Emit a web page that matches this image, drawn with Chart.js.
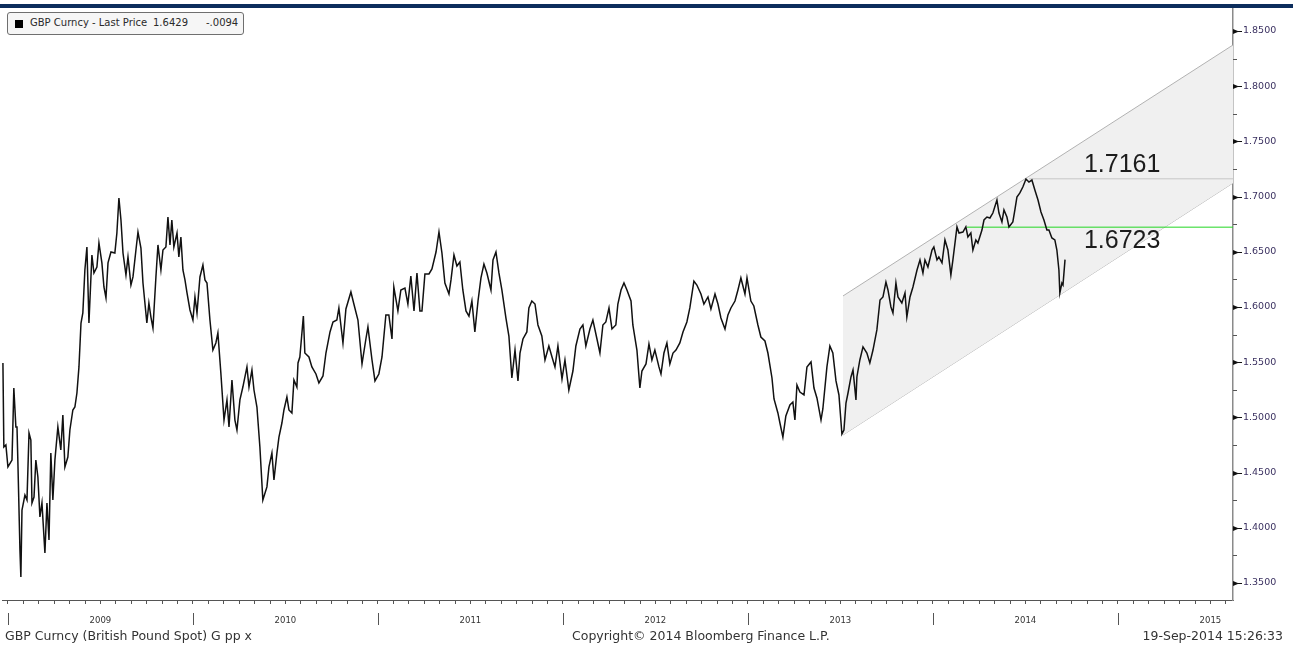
<!DOCTYPE html>
<html>
<head>
<meta charset="utf-8">
<style>
  html, body { margin: 0; padding: 0; background: #fff; }
  #wrap { position: relative; width: 1293px; height: 646px; overflow: hidden; font-family: "DejaVu Sans", sans-serif; }
  #gbpChart { position: absolute; left: 0; top: 0; }
  #topbar { position: absolute; left: 0; top: 4px; width: 1293px; height: 4px; background: #0c2d5c; }
  #legend { position: absolute; left: 7px; top: 12px; width: 235px; height: 21px; border: 1px solid #6f6f6f; border-radius: 3px; background: #f6f6f6; font-size: 10px; color: #2a2a2a; }
  #legend span { position: absolute; top: 4px; white-space: nowrap; }
  #legend .sq { left: 7px; top: 7px; width: 8px; height: 8px; background: #000; }
  .foot { position: absolute; top: 628px; font-size: 12.5px; color: #333; white-space: nowrap; }
</style>
</head>
<body>
<div id="wrap">
  <canvas id="gbpChart" width="1293" height="646"></canvas>
  <div id="topbar"></div>
  <div id="legend">
    <span class="sq"></span>
    <span style="left:22px">GBP Curncy - Last Price</span>
    <span style="left:145px">1.6429</span>
    <span style="left:198px">-.0094</span>
  </div>
  <div class="foot" style="left:5px">GBP Curncy (British Pound Spot) G pp x</div>
  <div class="foot" style="left:572px">Copyright© 2014 Bloomberg Finance L.P.</div>
  <div class="foot" style="right:10px">19-Sep-2014 15:26:33</div>
</div>

<script src="https://cdn.jsdelivr.net/npm/chart.js"></script>
<script>
  // dates as decimal years
  const dates = [
    2008.973, 2008.978, 2008.989, 2009.000, 2009.022, 2009.032, 2009.043, 2009.049, 2009.054, 2009.065,
    2009.070, 2009.076, 2009.092, 2009.103, 2009.114, 2009.124, 2009.130, 2009.141, 2009.151, 2009.162,
    2009.173, 2009.184, 2009.200, 2009.211, 2009.222, 2009.232, 2009.243, 2009.254, 2009.270, 2009.286,
    2009.297, 2009.308, 2009.324, 2009.335, 2009.351, 2009.362, 2009.373, 2009.384, 2009.395, 2009.405,
    2009.416, 2009.427, 2009.438, 2009.454, 2009.465, 2009.481, 2009.492, 2009.508, 2009.519, 2009.530,
    2009.541, 2009.557, 2009.578, 2009.589, 2009.600, 2009.611, 2009.622, 2009.638, 2009.649, 2009.665,
    2009.676, 2009.692, 2009.703, 2009.719, 2009.730, 2009.751, 2009.762, 2009.773, 2009.784, 2009.800,
    2009.811, 2009.827, 2009.838, 2009.854, 2009.865, 2009.876, 2009.886, 2009.897, 2009.914, 2009.924,
    2009.935, 2009.946, 2009.957, 2009.968, 2009.984, 2010.000, 2010.011, 2010.022, 2010.038, 2010.054,
    2010.065, 2010.076, 2010.092, 2010.108, 2010.124, 2010.135, 2010.151, 2010.168, 2010.184, 2010.195,
    2010.211, 2010.227, 2010.238, 2010.254, 2010.270, 2010.292, 2010.303, 2010.319, 2010.330, 2010.346,
    2010.362, 2010.378, 2010.400, 2010.411, 2010.427, 2010.438, 2010.454, 2010.465, 2010.481, 2010.492,
    2010.508, 2010.519, 2010.535, 2010.546, 2010.562, 2010.568,
    2010.578, 2010.597, 2010.605, 2010.627, 2010.643, 2010.665, 2010.681, 2010.703, 2010.719, 2010.741,
    2010.757, 2010.778, 2010.789, 2010.811, 2010.827, 2010.854, 2010.870, 2010.892, 2010.914, 2010.935,
    2010.946, 2010.968, 2010.984, 2011.005, 2011.022, 2011.043, 2011.059, 2011.076, 2011.086, 2011.108,
    2011.124, 2011.146, 2011.162, 2011.178, 2011.195, 2011.211, 2011.227, 2011.238, 2011.254, 2011.276,
    2011.292, 2011.314, 2011.330, 2011.346, 2011.362, 2011.384, 2011.395, 2011.411, 2011.427, 2011.443,
    2011.459, 2011.476, 2011.492, 2011.508, 2011.524, 2011.541, 2011.557, 2011.573, 2011.589, 2011.611,
    2011.622, 2011.638, 2011.654, 2011.670, 2011.692, 2011.708, 2011.724, 2011.741, 2011.757, 2011.768,
    2011.784, 2011.805, 2011.816, 2011.832, 2011.849, 2011.865, 2011.886, 2011.903, 2011.924, 2011.941,
    2011.957, 2011.973, 2011.995, 2012.011, 2012.032, 2012.054, 2012.070, 2012.092, 2012.108, 2012.124,
    2012.146, 2012.162, 2012.184, 2012.200, 2012.216, 2012.232, 2012.249, 2012.265, 2012.286, 2012.297,
    2012.314, 2012.330, 2012.346, 2012.368, 2012.378, 2012.400, 2012.416, 2012.427, 2012.449, 2012.465,
    2012.481, 2012.497, 2012.519, 2012.530, 2012.546, 2012.562, 2012.578, 2012.595, 2012.611, 2012.632,
    2012.649, 2012.670, 2012.686, 2012.708, 2012.724, 2012.746, 2012.762, 2012.784, 2012.800, 2012.822,
    2012.838, 2012.854, 2012.876, 2012.892, 2012.908, 2012.930, 2012.946, 2012.962, 2012.984, 2012.995,
    2013.016, 2013.032, 2013.054, 2013.070, 2013.092, 2013.108, 2013.130, 2013.141, 2013.162, 2013.173,
    2013.189, 2013.205, 2013.227, 2013.243, 2013.254, 2013.265, 2013.281, 2013.303, 2013.319, 2013.341,
    2013.357, 2013.373, 2013.395, 2013.405, 2013.427, 2013.443, 2013.459, 2013.476, 2013.492, 2013.508,
    2013.519, 2013.530, 2013.541,
    2013.557, 2013.568, 2013.584, 2013.589, 2013.605, 2013.622, 2013.643, 2013.659, 2013.676, 2013.697,
    2013.714, 2013.730, 2013.746, 2013.757, 2013.773, 2013.784, 2013.800, 2013.811, 2013.832, 2013.849,
    2013.859, 2013.876, 2013.892, 2013.914, 2013.930, 2013.946, 2013.957, 2013.973, 2013.995, 2014.005,
    2014.022, 2014.032, 2014.049, 2014.065, 2014.081, 2014.097, 2014.108, 2014.130, 2014.141, 2014.162,
    2014.178, 2014.189, 2014.205, 2014.216, 2014.232, 2014.243, 2014.265, 2014.276, 2014.292, 2014.308,
    2014.324, 2014.346, 2014.357, 2014.373, 2014.384, 2014.400, 2014.411, 2014.432, 2014.443, 2014.454,
    2014.470, 2014.486, 2014.503, 2014.519, 2014.535, 2014.551, 2014.568, 2014.584, 2014.600, 2014.616,
    2014.627, 2014.643, 2014.659, 2014.670, 2014.681, 2014.686, 2014.697, 2014.703, 2014.714
  ];

  const prices = [
    1.5493, 1.4732, 1.4750, 1.4551, 1.4614, 1.5266, 1.4913, 1.4913, 1.4587, 1.3799,
    1.3554, 1.4161, 1.4297, 1.4252, 1.4859, 1.4795, 1.4225, 1.4279, 1.4614, 1.4460,
    1.4098, 1.4225, 1.3772, 1.4225, 1.3889, 1.4677, 1.4252, 1.4614, 1.4913, 1.4705,
    1.5022, 1.4551, 1.4641, 1.4886, 1.5067, 1.5094, 1.5221, 1.5457, 1.5855, 1.5946,
    1.6335, 1.6543, 1.5855, 1.6471, 1.6308, 1.6362, 1.6580, 1.6399, 1.6181, 1.6082,
    1.6399, 1.6498, 1.6489, 1.6670, 1.6987, 1.6788, 1.6489, 1.6290, 1.6453, 1.6199,
    1.6272, 1.6516, 1.6679, 1.6534, 1.6217, 1.5855, 1.6036, 1.5909, 1.5810, 1.6272,
    1.6562, 1.6335, 1.6516, 1.6543, 1.6815, 1.6562, 1.6788, 1.6543, 1.6670, 1.6453,
    1.6634, 1.6335, 1.6245, 1.6127, 1.5973, 1.5882, 1.6091, 1.5946, 1.6272, 1.6380,
    1.6245, 1.6217, 1.5882, 1.5610, 1.5674, 1.5764, 1.5402, 1.4976, 1.5158, 1.4913,
    1.5339, 1.4976, 1.4886, 1.5158, 1.5275, 1.5457, 1.5275, 1.5429, 1.5248, 1.5094,
    1.4732, 1.4252, 1.4370, 1.4551, 1.4677, 1.4433, 1.4677, 1.4822, 1.4949, 1.5067,
    1.5185, 1.5067, 1.5040, 1.5339, 1.5275, 1.5493,
    1.5547, 1.5918, 1.5583, 1.5547, 1.5457, 1.5393, 1.5312, 1.5375, 1.5583, 1.5774,
    1.5864, 1.5882, 1.5991, 1.5674, 1.5982, 1.6136, 1.6027, 1.5882, 1.5484, 1.5710,
    1.5819, 1.5520, 1.5330, 1.5393, 1.5547, 1.5928, 1.5928, 1.5710, 1.6181, 1.5964,
    1.6154, 1.6172, 1.6027, 1.6281, 1.5964, 1.6308, 1.5964, 1.5964, 1.6299, 1.6299,
    1.6344, 1.6498, 1.6679, 1.6489, 1.6217, 1.6118, 1.6245, 1.6471, 1.6371, 1.6408,
    1.6154, 1.5964, 1.5918, 1.6054, 1.5774, 1.6054, 1.6263, 1.6389, 1.6308, 1.6154,
    1.6426, 1.6498, 1.6308, 1.6154, 1.5900, 1.5737, 1.5357, 1.5610, 1.5330, 1.5583,
    1.5710, 1.5774, 1.5991, 1.6054, 1.6027, 1.5837, 1.5737, 1.5520, 1.5647, 1.5547,
    1.5457, 1.5647, 1.5348, 1.5520, 1.5248, 1.5420, 1.5647, 1.5801, 1.5837, 1.5647,
    1.5801, 1.5882, 1.5710, 1.5583, 1.5837, 1.5864, 1.5991, 1.5801, 1.5837, 1.6027,
    1.6154, 1.6217, 1.6154, 1.6054, 1.5837, 1.5610, 1.5266, 1.5420, 1.5484, 1.5665,
    1.5520, 1.5610, 1.5457, 1.5393, 1.5583, 1.5674, 1.5484, 1.5583, 1.5610, 1.5674,
    1.5774, 1.5864, 1.5991, 1.6235, 1.6199, 1.6118, 1.6027, 1.6091, 1.5982, 1.6118,
    1.6027, 1.5900, 1.5801, 1.5928, 1.5991, 1.6054, 1.6154, 1.6263, 1.6118, 1.6263,
    1.6054, 1.6009, 1.5837, 1.5728, 1.5692, 1.5583, 1.5357, 1.5167, 1.5040, 1.4949,
    1.4822, 1.5013, 1.5112, 1.5139, 1.4976, 1.5293, 1.5230, 1.5203, 1.5457, 1.5502,
    1.5266, 1.5176, 1.4976, 1.5076, 1.5457, 1.5647, 1.5583, 1.5330, 1.5203, 1.4850,
    1.4886, 1.5130, 1.5221,
    1.5366, 1.5429, 1.5158, 1.5366, 1.5520, 1.5638, 1.5583, 1.5493, 1.5610, 1.5792,
    1.6063, 1.6091, 1.6226, 1.6154, 1.6000, 1.5946, 1.6217, 1.6091, 1.6036, 1.6127,
    1.5909, 1.6091, 1.6181, 1.6335, 1.6426, 1.6308, 1.6426, 1.6362, 1.6516, 1.6543,
    1.6426, 1.6453, 1.6399, 1.6607, 1.6516, 1.6290, 1.6426, 1.6725, 1.6670, 1.6679,
    1.6725, 1.6634, 1.6670, 1.6516, 1.6607, 1.6580, 1.6697, 1.6788, 1.6815, 1.6806,
    1.6851, 1.6969, 1.6851, 1.6770, 1.6879, 1.6815, 1.6725, 1.6770, 1.6879, 1.6996,
    1.7033, 1.7087, 1.7159, 1.7132, 1.7150, 1.7060, 1.6969, 1.6860, 1.6788, 1.6697,
    1.6697, 1.6625, 1.6607, 1.6516, 1.6335, 1.6127, 1.6217, 1.6199, 1.6429
  ];

  // trend channel drawn on the chart (start, end)
  const channelDates = [2013.514, 2015.622];
  const channelUpper = [1.6100, 1.8373];
  const channelLower = [1.4841, 1.7123];

  // horizontal levels and where they start
  const levelValues = [1.7161, 1.6723];
  const levelStarts = [2014.52, 2014.184];
  const levelLabels = ['1.7161', '1.6723'];

  const yearStarts = [2009, 2010, 2011, 2012, 2013, 2014, 2015];
  const yearLabels = ['2009', '2010', '2011', '2012', '2013', '2014', '2015'];
  const yLabelValues = [1.35, 1.40, 1.45, 1.50, 1.55, 1.60, 1.65, 1.70, 1.75, 1.80, 1.85];

  const xMin = 2008.968, xMax = 2015.622;
  const yMin = 1.3346, yMax = 1.8708;

  // ticks every half step between labelled values
  const yTickValues = [];
  yLabelValues.forEach(function (v, i) {
    yTickValues.push(v);
    if (i < yLabelValues.length - 1) yTickValues.push((v + yLabelValues[i + 1]) / 2);
  });

  const isMajorY = v => yLabelValues.some(l => Math.abs(l - v) < 1e-6);

  const marks = {
    id: 'marks',
    afterDraw(chart) {
      const ctx = chart.ctx, xs = chart.scales.x, ys = chart.scales.y;
      const ax = ys.left;
      ctx.save();
      // right axis tick marks
      yTickValues.forEach(v => {
        const py = Math.round(ys.getPixelForValue(v)) + 0.5;
        if (isMajorY(v)) {
          ctx.fillStyle = '#111';
          ctx.beginPath();
          ctx.moveTo(ax, py - 2.5);
          ctx.lineTo(ax + 6, py);
          ctx.lineTo(ax, py + 2.5);
          ctx.closePath();
          ctx.fill();
          ctx.fillRect(ax + 5, py - 0.5, 4, 1);
        } else {
          ctx.fillStyle = '#555';
          ctx.fillRect(ax, py - 0.5, 4, 1);
        }
      });
      // year separators under the time axis
      ctx.fillStyle = '#555';
      yearStarts.forEach(yr => {
        const px = Math.round(xs.getPixelForValue(yr));
        if (px >= xs.left - 8 && px <= xs.right) ctx.fillRect(px, 613, 1, 12);
      });
      // level labels
      ctx.fillStyle = '#1c1c1c';
      ctx.font = '25px "Liberation Sans", Arial, sans-serif';
      ctx.textAlign = 'left';
      const tx = xs.getPixelForValue(2014.816);
      ctx.textBaseline = 'bottom';
      ctx.fillText(levelLabels[0], tx, ys.getPixelForValue(levelValues[0]) - 1);
      ctx.textBaseline = 'top';
      ctx.fillText(levelLabels[1], tx, ys.getPixelForValue(levelValues[1]) + 1);
      ctx.restore();
    }
  };

  const line = (xsArr, ysArr) => xsArr.map((d, i) => ({ x: d, y: ysArr[i] }));

  new Chart(document.getElementById('gbpChart'), {
    type: 'line',
    data: {
      datasets: [
        {
          label: 'GBP Curncy - Last Price',
          data: line(dates, prices),
          borderColor: '#111',
          borderWidth: 1.5,
          pointRadius: 0,
          tension: 0
        },
        {
          data: line([levelStarts[1], xMax], [levelValues[1], levelValues[1]]),
          borderColor: '#22d622',
          borderWidth: 1,
          pointRadius: 0
        },
        {
          data: line([levelStarts[0], xMax], [levelValues[0], levelValues[0]]),
          borderColor: '#c6c6c6',
          borderWidth: 1,
          pointRadius: 0
        },
        {
          data: line(channelDates, channelUpper),
          borderColor: '#b2b2b2',
          borderWidth: 1,
          pointRadius: 0,
          fill: '+1',
          backgroundColor: '#f0f0f0'
        },
        {
          data: line(channelDates, channelLower),
          borderColor: '#b2b2b2',
          borderWidth: 1,
          pointRadius: 0
        }
      ]
    },
    options: {
      responsive: false,
      animation: false,
      devicePixelRatio: 1,
      layout: { padding: { left: 2, top: 8, right: 0, bottom: 0 } },
      plugins: { legend: { display: false }, tooltip: { enabled: false } },
      scales: {
        x: {
          type: 'linear',
          min: xMin,
          max: xMax,
          afterBuildTicks: s => {
            const t = [];
            for (let m = Math.ceil(xMin * 12); m <= Math.floor(xMax * 12); m++) t.push({ value: m / 12 });
            s.ticks = t;
          },
          ticks: {
            autoSkip: false,
            maxRotation: 0,
            padding: 12,
            color: '#333',
            font: { family: 'DejaVu Sans', size: 8.5 },
            callback: function (v) {
              const m = Math.round(v * 12);
              if (((m % 12) + 12) % 12 !== 6) return '';
              const i = yearStarts.indexOf(Math.floor(m / 12));
              return i >= 0 ? yearLabels[i] : '';
            }
          },
          grid: { drawOnChartArea: false, drawTicks: true, tickLength: 4, color: '#555' },
          border: { display: true, color: '#555', width: 1 },
          afterFit: s => { s.height = 46; s.paddingLeft = 0; s.paddingRight = 0; }
        },
        y: {
          type: 'linear',
          position: 'right',
          min: yMin,
          max: yMax,
          afterBuildTicks: s => { s.ticks = yTickValues.map(v => ({ value: v })); },
          ticks: {
            autoSkip: false,
            padding: 10,
            color: '#3a3060',
            font: { family: 'DejaVu Sans', size: 9.5 },
            callback: v => isMajorY(v) ? v.toFixed(4) : ''
          },
          grid: { drawOnChartArea: false, drawTicks: false },
          border: { display: true, color: '#8a8a8a', width: 1.5 },
          afterFit: s => { s.width = 60; s.paddingTop = 0; s.paddingBottom = 0; }
        }
      }
    },
    plugins: [marks]
  });
</script>
</body>
</html>
